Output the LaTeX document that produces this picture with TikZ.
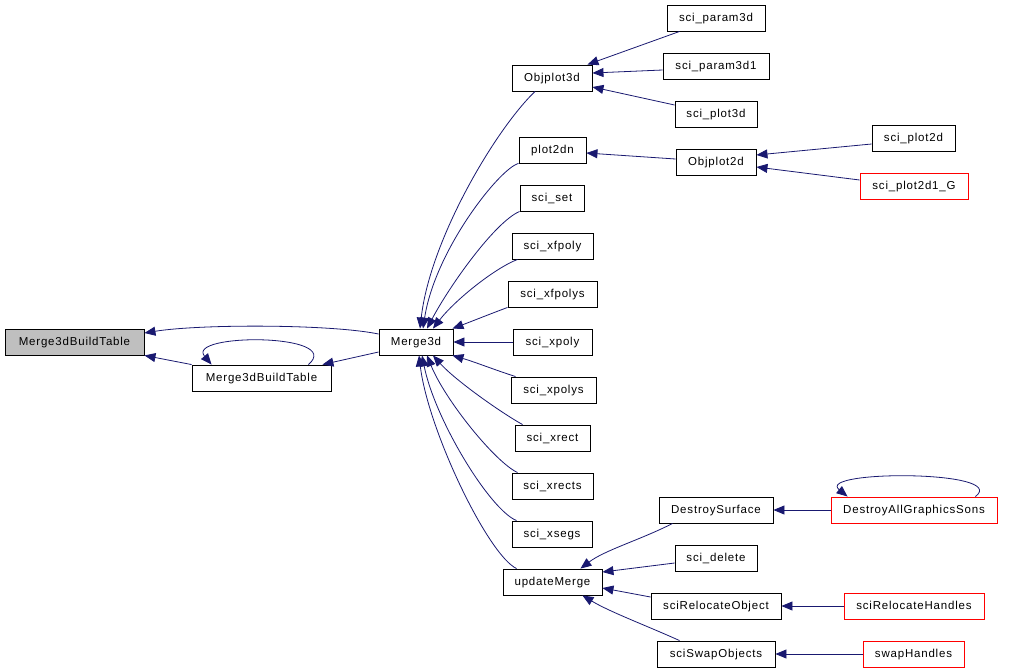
\documentclass[tikz,border=0pt]{standalone}
\usepackage{fontspec}
\setmainfont[LetterSpace=7]{Liberation Sans}
\usetikzlibrary{arrows.meta}
\definecolor{edgeblue}{HTML}{191970}
\definecolor{rootgrey}{HTML}{BFBFBF}

\begin{document}
\begin{tikzpicture}[x=1pt, y=1pt]
 \tikzstyle{fn}=[rectangle, draw, line width=0.9pt, minimum height=26pt, inner sep=0pt, text depth=1pt, font=\fontsize{11.5}{13}\selectfont]
 \tikzstyle{rootfn}=[fn, fill=rootgrey]
 \tikzstyle{nodocfn}=[fn, draw=red]
 \tikzstyle{arr}=[->, >={Triangle[length=11pt, width=9pt]}, draw=edgeblue, line width=0.8pt]

 \useasboundingbox (0,0) rectangle (1009,-670);

 % Left part
 \node (nbuildtable) at (74.5,-342) [rootfn, minimum width=139pt] {Merge3dBuildTable};
 \node (nbuildrec) at (261.5,-378) [fn, minimum width=139pt] {Merge3dBuildTable};
 \node (nmerge) at (416,-342) [fn, minimum width=74pt] {Merge3d};

 % Merge3d callers
 \node (nobj3d) at (552,-78) [fn, minimum width=80pt] {Objplot3d};
 \node (nplot2dn) at (552.5,-150) [fn, minimum width=67pt] {plot2dn};
 \node (nsciset) at (552,-198) [fn, minimum width=64pt] {sci\_set};
 \node (nxfpoly) at (552.5,-246) [fn, minimum width=81pt] {sci\_xfpoly};
 \node (nxfpolys) at (552.5,-294) [fn, minimum width=89pt] {sci\_xfpolys};
 \node (nxpoly) at (552.5,-342) [fn, minimum width=79pt] {sci\_xpoly};
 \node (nxpolys) at (553.5,-390) [fn, minimum width=85pt] {sci\_xpolys};
 \node (nxrect) at (552.5,-438) [fn, minimum width=75pt] {sci\_xrect};
 \node (nxrects) at (552.5,-486) [fn, minimum width=81pt] {sci\_xrects};
 \node (nxsegs) at (552,-534) [fn, minimum width=80pt] {sci\_xsegs};
 \node (nupdate) at (552.5,-582) [fn, minimum width=99pt] {updateMerge};

 % Objplot3d / Objplot2d callers
 \node (nparam3d) at (716,-18) [fn, minimum width=98pt] {sci\_param3d};
 \node (nparam3d1) at (716,-66) [fn, minimum width=106pt] {sci\_param3d1};
 \node (nplot3d) at (716,-114) [fn, minimum width=82pt] {sci\_plot3d};
 \node (nobj2d) at (716,-162) [fn, minimum width=80pt] {Objplot2d};
 \node (nplot2d) at (913.5,-138) [fn, minimum width=83pt] {sci\_plot2d};
 \node (nplot2dg) at (914,-186) [nodocfn, minimum width=108pt] {sci\_plot2d1\_G};

 % updateMerge callers
 \node (ndestroysurf) at (716,-510) [fn, minimum width=114pt] {DestroySurface};
 \node (ndestroyall) at (914,-510) [nodocfn, minimum width=166pt] {DestroyAllGraphicsSons};
 \node (ndelete) at (716,-558) [fn, minimum width=82pt] {sci\_delete};
 \node (nrelocobj) at (716,-606) [fn, minimum width=130pt] {sciRelocateObject};
 \node (nrelochandles) at (914,-606) [nodocfn, minimum width=140pt] {sciRelocateHandles};
 \node (nswapobj) at (716,-654) [fn, minimum width=118pt] {sciSwapObjects};
 \node (nswaphandles) at (913.5,-654) [nodocfn, minimum width=101pt] {swapHandles};

 % Into Merge3dBuildTable
 \draw [arr] ([yshift=8pt]nmerge.west) .. controls (330,-324) and (200,-324) .. ([yshift=9pt]nbuildtable.east);
 \draw [arr] (nbuildrec.north west) -- (nbuildtable.south east);
 \draw [arr] ([xshift=-23pt]nbuildrec.north east) .. controls (345,-333) and (185,-333) .. ([xshift=20pt]nbuildrec.north west);
 \draw [arr] ([yshift=-10pt]nmerge.west) -- ([xshift=-9pt]nbuildrec.north east);

 % Into Merge3d, from above
 \draw [arr] ([xshift=-17pt]nobj3d.south) .. controls (495,-130) and (430,-240) .. ([xshift=4pt]nmerge.north);
 \draw [arr] (nplot2dn.south west) .. controls (500,-168) and (435,-250) .. ([xshift=7pt]nmerge.north);
 \draw [arr] (nsciset.south west) .. controls (495,-222) and (450,-285) .. ([xshift=11pt]nmerge.north);
 \draw [arr] ([xshift=6pt]nxfpoly.south west) .. controls (495,-268) and (455,-300) .. ([xshift=17pt]nmerge.north);
 \draw [arr] (nxfpolys.south west) .. controls (490,-314) and (470,-322) .. ([xshift=-1pt]nmerge.north east);
 \draw [arr] (nxpoly.west) -- (nmerge.east);

 % Into Merge3d, from below
 \draw [arr] ([xshift=5pt]nxpolys.north west) .. controls (495,-370) and (475,-362) .. ([xshift=-1pt]nmerge.south east);
 \draw [arr] ([xshift=8pt]nxrect.north west) .. controls (500,-412) and (455,-380) .. ([xshift=17pt]nmerge.south);
 \draw [arr] ([xshift=6pt]nxrects.north west) .. controls (495,-462) and (445,-400) .. ([xshift=11pt]nmerge.south);
 \draw [arr] ([xshift=5pt]nxsegs.north west) .. controls (490,-510) and (435,-420) .. ([xshift=6pt]nmerge.south);
 \draw [arr] ([xshift=14pt]nupdate.north west) .. controls (488,-555) and (428,-430) .. ([xshift=3pt]nmerge.south);

 % Objplot3d
 \draw [arr] ([xshift=13pt]nparam3d.south west) -- ([xshift=-5pt]nobj3d.north east);
 \draw [arr] ([yshift=-4pt]nparam3d1.west) -- ([yshift=5pt]nobj3d.east);
 \draw [arr] ([yshift=9pt]nplot3d.west) -- ([yshift=-9pt]nobj3d.east);

 % Objplot2d
 \draw [arr] ([yshift=3pt]nobj2d.west) -- ([yshift=-3pt]nplot2dn.east);
 \draw [arr] ([yshift=-6pt]nplot2d.west) -- ([yshift=7pt]nobj2d.east);
 \draw [arr] ([yshift=6pt]nplot2dg.west) -- ([yshift=-5pt]nobj2d.east);

 % updateMerge
 \draw [arr] ([xshift=14pt]ndestroysurf.south west) .. controls (640,-540) and (605,-550) .. ([xshift=-22pt]nupdate.north east);
 \draw [arr] ([yshift=-5pt]ndelete.west) -- ([yshift=10pt]nupdate.east);
 \draw [arr] ([yshift=9pt]nrelocobj.west) -- ([yshift=-6pt]nupdate.east);
 \draw [arr] ([xshift=23pt]nswapobj.north west) .. controls (645,-625) and (610,-612) .. ([xshift=-20pt]nupdate.south east);

 % Leaves
 \draw [arr] (ndestroyall.west) -- (ndestroysurf.east);
 \draw [arr] ([xshift=-22pt]ndestroyall.north east) .. controls (1010,-470) and (815,-470) .. ([xshift=17pt]ndestroyall.north west);
 \draw [arr] (nrelochandles.west) -- (nrelocobj.east);
 \draw [arr] (nswaphandles.west) -- (nswapobj.east);

\end{tikzpicture}
\end{document}
